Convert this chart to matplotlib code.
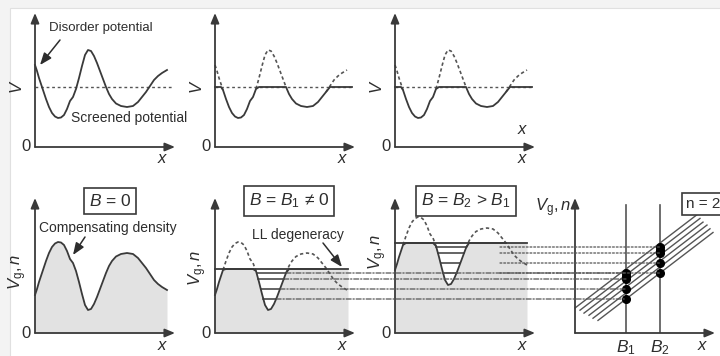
import numpy as np
import matplotlib
matplotlib.use("Agg")
import matplotlib.pyplot as plt
from matplotlib.patches import ConnectionPatch, Rectangle

plt.rcParams["font.family"] = ["Liberation Sans", "DejaVu Sans"]
plt.rcParams["mathtext.fontset"] = "custom"
plt.rcParams["mathtext.rm"] = "Liberation Sans"
plt.rcParams["mathtext.it"] = "Liberation Sans:italic"
plt.rcParams["mathtext.bf"] = "Liberation Sans:bold"

INK = "#2d2d2d"
LINE = "#3a3a3a"
FILL = "#e2e2e2"

# disorder potential along x (panel units, height above the x axis)
x_pos = [0, 2, 4, 6, 8, 11, 14, 17, 20, 23, 26, 29, 32, 35, 38, 41, 44, 47, 50, 53,
         56, 59, 62, 65, 68, 71, 74, 77, 81, 86, 92, 98, 103, 107, 111, 115, 119, 123, 127, 132]
V_dis = [82, 76, 69, 63, 57, 48, 40, 34, 30.5, 29, 29.5, 32, 38, 46, 50, 58, 69, 81, 92, 97,
         96, 91, 84, 76, 68, 60, 53, 48, 43.5, 41, 40, 41, 45, 50, 55, 61, 67, 71, 74, 77]
V_screen = 60            # screened potential level
N_total = 120            # V + n, compensating density
level_B1 = 64            # filled level at B1
level_B2 = 90            # filled level at B2
shift_B2 = 25            # density offset in the B2 panel
LL_B1 = [60, 54, 44, 34]
LL_B2 = [86, 80, 70, 60]
fan_B1 = [64, 58, 52, 46, 40, 34]
fan_B2 = [90, 84, 78, 72, 66, 60]
fan_x0 = [0, 5, 9, 14, 18, 23]
fan_x1 = [122, 125, 128, 132, 135, 138]
dots_B1 = [60, 57, 54, 44, 34]
dots_B2 = [86, 83, 80, 70, 60]
B1_pos, B2_pos = 51, 85

x = np.array(x_pos, dtype=float)
V = np.array(V_dis, dtype=float)
n = N_total - V

FW, FH = 720, 356
fig = plt.figure(figsize=(FW / 100, FH / 100), dpi=100, facecolor="#f3f3f3")
fig.add_artist(Rectangle((10 / FW, -0.1), 1, (FH - 8) / FH + 0.1, transform=fig.transFigure,
                         fc="white", ec="#e0e0e0", lw=0.8, zorder=-1))

AX_ARROW = dict(arrowstyle="-|>,head_length=0.6,head_width=0.25", color=LINE, lw=1.3,
                mutation_scale=10, shrinkA=0, shrinkB=0)
PTR = dict(arrowstyle="-|>,head_length=0.9,head_width=0.35", color=INK, lw=1.1,
           mutation_scale=8, shrinkA=0, shrinkB=0)


def panel(left, base, w, h, zero=True):
    ax = fig.add_axes([left / FW, (FH - base) / FH, w / FW, h / FH])
    ax.set_xlim(0, w)
    ax.set_ylim(0, h)
    ax.axis("off")
    ax.annotate("", xy=(1, 0), xytext=(0, 0), xycoords="axes fraction", arrowprops=AX_ARROW)
    ax.annotate("", xy=(0, 1), xytext=(0, 0), xycoords="axes fraction", arrowprops=AX_ARROW)
    if zero:
        ax.text(-4, 0, "0", ha="right", va="center", fontsize=12, color=INK)
    ax.text(w - 12, -12, "$x$", ha="center", va="center", fontsize=12, color=INK)
    return ax


def grow(mask):
    m = mask.copy()
    m[1:] |= mask[:-1]
    m[:-1] |= mask[1:]
    return m


def well_walls(y, level):
    im = int(np.argmin(np.where((x > 30) & (x < 80), y, np.inf)))
    i1 = int(np.argmax(y[:im]))
    i2 = im + int(np.argmax(y[im:]))
    left = np.interp(level, y[i1:im + 1][::-1], x[i1:im + 1][::-1])
    right = np.interp(level, y[im:i2 + 1], x[im:i2 + 1])
    return left, right


# ---- top row: disorder and screened potential
tops = [panel(L, 147, 140, 134) for L in (35, 215, 395)]
for ax in tops:
    ax.text(-18, V_screen, "$V$", rotation=90, ha="center", va="center", fontsize=12, color=INK)

ax = tops[0]
ax.plot([0, 137], [V_screen, V_screen], color="#555555", lw=1, ls=(0, (2, 2)), clip_on=False)
ax.plot(x, V, color=LINE, lw=1.3, clip_on=False)
ax.text(14, 119, "Disorder potential", fontsize=9.5, va="center", color=INK)
ax.annotate("", xy=(5, 82), xytext=(25, 107), arrowprops=PTR)
ax.text(36, 29, "Screened potential", fontsize=10, va="center", color=INK)

for ax in tops[1:]:
    above = V > V_screen
    ax.plot([0, 137], [V_screen, V_screen], color="#555555", lw=1, ls=(0, (2, 2)), clip_on=False)
    ax.plot(x, np.where(grow(above), V, np.nan), color="#555555", lw=1.2, ls=(0, (2, 1.6)),
            clip_on=False)
    ax.plot(np.append(x, 137), np.append(np.minimum(V, V_screen), V_screen), color=LINE,
            lw=1.3, clip_on=False)
tops[2].text(128, 17, "$x$", ha="center", va="center", fontsize=12, color=INK)

# ---- bottom row: compensating density and Landau levels
ax0 = panel(35, 333, 140, 135)
ax1 = panel(215, 333, 140, 135)
ax2 = panel(395, 333, 140, 135)
ax3 = panel(575, 333, 140, 135, zero=False)

for ax, yl in ((ax0, 61), (ax1, 65), (ax2, 81)):
    ax.text(-17, yl, "$V_{\\mathrm{g}},n$", rotation=90, ha="center", va="center",
            fontsize=12, color=INK)

BOX = dict(boxstyle="square,pad=0.3", fc="white", ec=LINE, lw=1.2)
ax0.text(75, 132, "$B$ = 0", ha="center", va="center", fontsize=12.5, color=INK, bbox=BOX)
ax1.text(74, 132, "$B$ = $B_1$ \u2260 0", ha="center", va="center", fontsize=12.5,
         color=INK, bbox=BOX)
ax2.text(71, 132, "$B$ = $B_2$ > $B_1$", ha="center", va="center", fontsize=12.5,
         color=INK, bbox=BOX)

ax0.fill_between(x, 0, n, color=FILL, lw=0)
ax0.plot(x, n, color=LINE, lw=1.3, clip_on=False)
ax0.text(4, 105, "Compensating density", fontsize=10, va="center", color=INK)
ax0.annotate("", xy=(38, 78), xytext=(50, 96), arrowprops=PTR)


def filled(ax, dens, level, ll, x_end):
    above = dens >= level
    last = int(np.nonzero(above)[0][-1])
    tail = np.arange(len(x)) >= last
    top = np.where(tail, level, np.minimum(dens, level))
    ax.fill_between(np.append(x, x_end), 0, np.append(top, level), color=FILL, lw=0)
    dashed = grow(above) | tail
    ax.plot(x, np.where(dashed, dens, np.nan), color="#555555", lw=1.2, ls=(0, (2, 1.6)),
            clip_on=False)
    ax.plot(x[:last + 1], np.minimum(dens, level)[:last + 1], color=LINE, lw=1.3, clip_on=False)
    ax.plot([0, x_end], [level, level], color=LINE, lw=1.3, clip_on=False)
    walls = []
    for lv in ll:
        a, b = well_walls(dens, lv)
        ax.plot([a, b], [lv, lv], color=LINE, lw=1.1)
        walls.append(b)
    return walls


walls_B1 = filled(ax1, n, level_B1, LL_B1, 133)
filled(ax2, n + shift_B2, level_B2, LL_B2, 132)
ax1.text(37, 98, "LL degeneracy", fontsize=10, va="center", color=INK)
ax1.annotate("", xy=(127, 66), xytext=(108, 90), arrowprops=PTR)

# right panel: Landau level fan
for b, lab in ((B1_pos, "$B_1$"), (B2_pos, "$B_2$")):
    ax3.plot([b, b], [0, 128], color="#555555", lw=1.2)
    ax3.text(b, -15, lab, ha="center", va="center", fontsize=12.5, color=INK)
for y1, y2, a, b in zip(fan_B1, fan_B2, fan_x0, fan_x1):
    k = (y2 - y1) / (B2_pos - B1_pos)
    ax3.plot([a, b], [y1 + k * (a - B1_pos), y1 + k * (b - B1_pos)], color="#555555", lw=1,
             clip_on=False)
ax3.plot([B1_pos] * len(dots_B1), dots_B1, "o", ms=5.5, color="black", zorder=5)
ax3.plot([B2_pos] * len(dots_B2), dots_B2, "o", ms=5.5, color="black", zorder=5)
ax3.text(-22, 125, "$V_{\\mathrm{g}},n$", ha="center", va="center", fontsize=12, color=INK)
ax3.text(111, 129, "n = 2D", ha="left", va="center", fontsize=11, color=INK,
         bbox=dict(boxstyle="square,pad=0.25", fc="white", ec=LINE, lw=1.2))

# level lines carried over to the fan
for lv, xw in zip(LL_B1, walls_B1):
    fig.add_artist(ConnectionPatch((xw, lv), (B1_pos, lv), coordsA=ax1.transData,
                                   coordsB=ax3.transData, color="#555555", lw=0.9,
                                   ls=(0, (4, 1.5, 1, 1.5))))
for lv in LL_B2:
    fig.add_artist(ConnectionPatch((105, lv), (B2_pos, lv), coordsA=ax2.transData,
                                   coordsB=ax3.transData, color="#555555", lw=0.9,
                                   ls=(0, (1.5, 1.5))))

fig.savefig("out.png", dpi=100, facecolor=fig.get_facecolor())
